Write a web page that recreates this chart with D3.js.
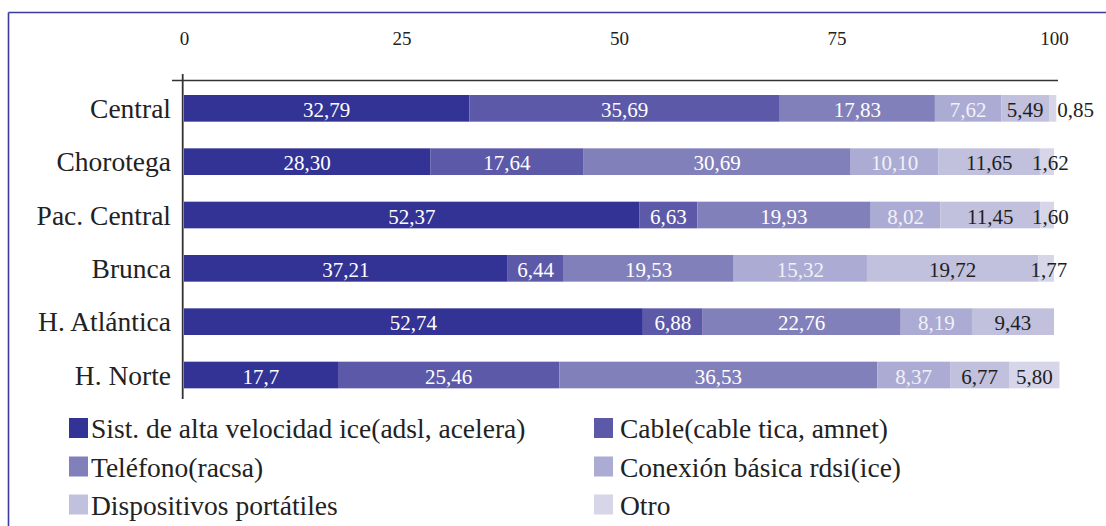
<!DOCTYPE html>
<html>
<head>
<meta charset="utf-8">
<script src="https://cdn.jsdelivr.net/npm/d3@7"></script>
<style>
  html, body { margin: 0; padding: 0; background: #ffffff; }
  svg { display: block; }
</style>
</head>
<body>
<svg id="chart" width="1106" height="526" font-family="'Liberation Serif', 'DejaVu Serif', serif"></svg>
<script>
// ---- data ----
const categories = ["Central", "Chorotega", "Pac. Central", "Brunca", "H. Atlántica", "H. Norte"];
const seriesNames = [
  "Sist. de alta velocidad ice(adsl, acelera)",
  "Cable(cable tica, amnet)",
  "Teléfono(racsa)",
  "Conexión básica rdsi(ice)",
  "Dispositivos portátiles",
  "Otro"
];
const altaVelocidad = ["32,79", "28,30", "52,37", "37,21", "52,74", "17,7"];
const cable        = ["35,69", "17,64", "6,63", "6,44", "6,88", "25,46"];
const telefono     = ["17,83", "30,69", "19,93", "19,53", "22,76", "36,53"];
const conexion     = ["7,62", "10,10", "8,02", "15,32", "8,19", "8,37"];
const portatiles   = ["5,49", "11,65", "11,45", "19,72", "9,43", "6,77"];
const otro         = ["0,85", "1,62", "1,60", "1,77", "", "5,80"];
const tickValues = [0, 25, 50, 75, 100];
const colors = ["#333395", "#5c59a8", "#8280ba", "#acabd3", "#c1c0dd", "#d6d6e8"];

const FONT = "'Liberation Serif', 'DejaVu Serif', serif";

// ---- build table ----
const seriesLabels = [altaVelocidad, cable, telefono, conexion, portatiles, otro];
const keys = seriesNames;
const rows = categories.map((c, i) => {
  const r = { cat: c };
  keys.forEach((k, j) => {
    const s = seriesLabels[j][i];
    r[k] = s === "" ? 0 : +s.replace(",", ".");
    r["lbl_" + j] = s;
  });
  return r;
});

const svg = d3.select("#chart");

// frame
svg.append("line").attr("x1", 8.5).attr("x2", 1106).attr("y1", 12.5).attr("y2", 12.5)
  .attr("stroke", "#3b3b9f").attr("stroke-width", 1.6);
svg.append("line").attr("x1", 8.5).attr("x2", 8.5).attr("y1", 12.5).attr("y2", 526)
  .attr("stroke", "#3b3b9f").attr("stroke-width", 1.6);

const x = d3.scaleLinear().domain([0, 100]).range([184, 1054]);
const y = d3.scaleBand().domain(categories).range([81.67, 401.67])
  .paddingInner(0.5).paddingOuter(0.25);

// top tick labels
const ax = svg.append("g").attr("transform", "translate(0,44.5)")
  .call(d3.axisTop(x).tickValues(tickValues).tickSize(0).tickPadding(0).tickFormat(d3.format("d")));
ax.attr("font-family", FONT);
ax.select(".domain").remove();
ax.selectAll("text").attr("font-family", FONT).attr("font-size", 19).attr("fill", "#222");

// axis lines
svg.append("line").attr("x1", 172).attr("x2", 1058).attr("y1", 80.5).attr("y2", 80.5)
  .attr("stroke", "#333").attr("stroke-width", 1.6);
svg.append("line").attr("x1", 182.7).attr("x2", 182.7).attr("y1", 74).attr("y2", 399)
  .attr("stroke", "#333").attr("stroke-width", 1.8);

// category labels
svg.append("g").selectAll("text").data(categories).join("text")
  .attr("x", 171).attr("y", d => y(d) + y.bandwidth() / 2 + 9.5)
  .attr("text-anchor", "end").attr("font-family", FONT).attr("font-size", 27.5).attr("fill", "#222")
  .text(d => d);

// stacked bars
const stacked = d3.stack().keys(keys)(rows);
const layers = svg.append("g").selectAll("g").data(stacked).join("g")
  .attr("fill", (d, i) => colors[i]);
layers.selectAll("rect").data(d => d).join("rect")
  .attr("x", d => x(d[0]))
  .attr("width", d => Math.max(0, x(d[1]) - x(d[0])))
  .attr("y", d => y(d.data.cat))
  .attr("height", y.bandwidth());

// value labels
const labelG = svg.append("g").attr("font-family", FONT);
const prevRight = {};
stacked.forEach((layer, j) => {
  layer.forEach(d => {
    const s = d.data["lbl_" + j];
    if (!s) return;
    const cy = y(d.data.cat) + y.bandwidth() / 2 + 8.5;
    const v = d[1] - d[0];
    let t;
    if (j === keys.length - 1 && v < 2) {
      t = labelG.append("text").attr("font-family", FONT).attr("font-size", 21).attr("fill", "#1e1e1e")
        .attr("text-anchor", "start").attr("y", cy).text(s);
      let sx = x(d[0]) - 8;
      if (sx < prevRight[d.data.cat] + 4) sx = x(d[1]) + 1;
      t.attr("x", sx);
    } else {
      const cx = (x(d[0]) + x(d[1])) / 2;
      t = labelG.append("text").attr("font-family", FONT).attr("font-size", 21)
        .attr("fill", j <= 2 ? "#ffffff" : (j === 3 ? "#f1f1f8" : "#1e1e1e"))
        .attr("text-anchor", "middle").attr("x", cx).attr("y", cy).text(s);
      prevRight[d.data.cat] = cx + t.node().getComputedTextLength() / 2;
    }
  });
});

// legend
const legendCols = [{ sx: 69, tx: 91 }, { sx: 594, tx: 620 }];
const legendRows = [438, 476.5, 514.5];
const lg = svg.append("g").selectAll("g").data(seriesNames).join("g");
lg.append("rect")
  .attr("x", (d, i) => legendCols[i % 2].sx)
  .attr("y", (d, i) => legendRows[Math.floor(i / 2)] - 20)
  .attr("width", 19).attr("height", 20)
  .attr("fill", (d, i) => colors[i]);
lg.append("text")
  .attr("x", (d, i) => legendCols[i % 2].tx)
  .attr("y", (d, i) => legendRows[Math.floor(i / 2)])
  .attr("font-family", FONT).attr("font-size", 27.5).attr("fill", "#222")
  .text(d => d);
</script>
</body>
</html>
